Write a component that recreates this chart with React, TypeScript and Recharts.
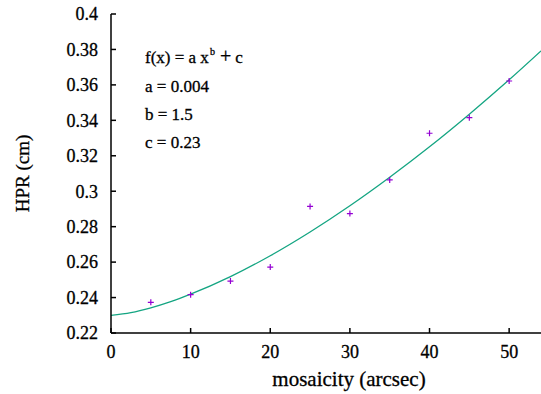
import { ComposedChart, Line, Scatter, XAxis, YAxis, Customized } from "recharts"

const xTicks = [0, 10, 20, 30, 40, 50]
const yTicks = [0.22, 0.24, 0.26, 0.28, 0.3, 0.32, 0.34, 0.36, 0.38, 0.4]

// measured points
const mosaicity = [5, 10, 15, 20, 25, 30, 35, 40, 45, 50]
const hpr = [0.2373, 0.2416, 0.2493, 0.2572, 0.2914, 0.2874, 0.3064, 0.3327, 0.3415, 0.3622]

// fitted curve
const fitX = [0, 2.5, 5, 7.5, 10, 15, 20, 25, 30, 35, 40, 45, 50, 54]
const fitHpr = [0.23, 0.2315, 0.2342, 0.2377, 0.2419, 0.2518, 0.2636, 0.277, 0.2918, 0.3079, 0.3251, 0.3435, 0.3629, 0.3792]

const fitLines = ["a = 0.004", "b = 1.5", "c = 0.23"]

const points = mosaicity.map((x, i) => ({ x, y: hpr[i] }))
const fit = fitX.map((x, i) => ({ x, y: fitHpr[i] }))

const font = "Liberation Serif, Times New Roman, serif"
const ink = "#000"
// slight stroke so the serif text is as heavy as in the original
const txt = { fontFamily: font, stroke: ink, strokeWidth: 0.3 }

const fmt = (v: number) => String(Number(v.toFixed(2)))

const BottomTick = ({ x, y, payload }: any) => (
  <g>
    <line x1={x} y1={y} x2={x} y2={y - 5} stroke={ink} strokeWidth={1.5} />
    <text x={x} y={y + 25} textAnchor="middle" fontSize={18} style={txt} fill={ink}>
      {payload.value}
    </text>
  </g>
)

const TopTick = ({ x, y }: any) => <line x1={x} y1={y} x2={x} y2={y + 5} stroke={ink} strokeWidth={1.5} />

const LeftTick = ({ x, y, payload }: any) => (
  <g>
    <line x1={x} y1={y} x2={x + 5} y2={y} stroke={ink} strokeWidth={1.5} />
    <text x={x - 13} y={y} dy="0.35em" textAnchor="end" fontSize={18} style={txt} fill={ink}>
      {fmt(payload.value)}
    </text>
  </g>
)

const Plus = ({ cx, cy }: any) => (
  <path d={`M${cx - 3},${cy}H${cx + 3}M${cx},${cy - 3}V${cy + 3}`} stroke="#9400d3" strokeWidth={1.2} fill="none" />
)

const Annotation = () => (
  <g fontSize={17} fill={ink}>
    <text x={145} y={63} style={txt}>
      f(x) = a  x<tspan dy={-8} dx={1} fontSize={10}>b</tspan>
      <tspan dy={8} dx={5} fontSize={20}>+</tspan>
      <tspan dx={4}>c</tspan>
    </text>
    {fitLines.map((s, i) => (
      <text key={s} x={145} y={92 + i * 28} style={txt}>
        {s}
      </text>
    ))}
  </g>
)

export default function App() {
  return (
    <div style={{ position: "absolute", left: 0, top: 0, background: "#fff", fontFamily: font }}>
      <ComposedChart width={541} height={394} margin={{ top: 14, right: 0, bottom: 0, left: 0 }}>
        <XAxis
          dataKey="x"
          type="number"
          domain={[0, 54]}
          ticks={xTicks}
          height={61}
          tickSize={0}
          tickMargin={0}
          tickLine={false}
          tick={<BottomTick />}
          axisLine={{ stroke: ink, strokeWidth: 1.5 }}
          label={{ value: "mosaicity (arcsec)", position: "insideBottom", offset: 8, dx: 23, fontSize: 21, fill: ink, style: txt }}
        />
        <XAxis
          xAxisId="top"
          orientation="top"
          dataKey="x"
          type="number"
          domain={[0, 54]}
          ticks={xTicks}
          height={0}
          tickSize={0}
          tickMargin={0}
          tickLine={false}
          tick={<TopTick />}
          axisLine={{ stroke: ink, strokeWidth: 1.5 }}
        />
        <YAxis
          dataKey="y"
          type="number"
          domain={[0.22, 0.4]}
          ticks={yTicks}
          width={111}
          tickSize={0}
          tickMargin={0}
          tickLine={false}
          tick={<LeftTick />}
          axisLine={{ stroke: ink, strokeWidth: 1.5 }}
          label={{ value: "HPR (cm)", angle: -90, position: "insideLeft", offset: 22, fontSize: 19, fill: ink, style: { ...txt, textAnchor: "middle" } }}
        />
        <Line data={fit} dataKey="y" type="monotone" stroke="#14a582" strokeWidth={1.3} dot={false} isAnimationActive={false} />
        <Scatter data={points} dataKey="y" shape={<Plus />} isAnimationActive={false} />
        <Customized component={<Annotation />} />
      </ComposedChart>
    </div>
  )
}
